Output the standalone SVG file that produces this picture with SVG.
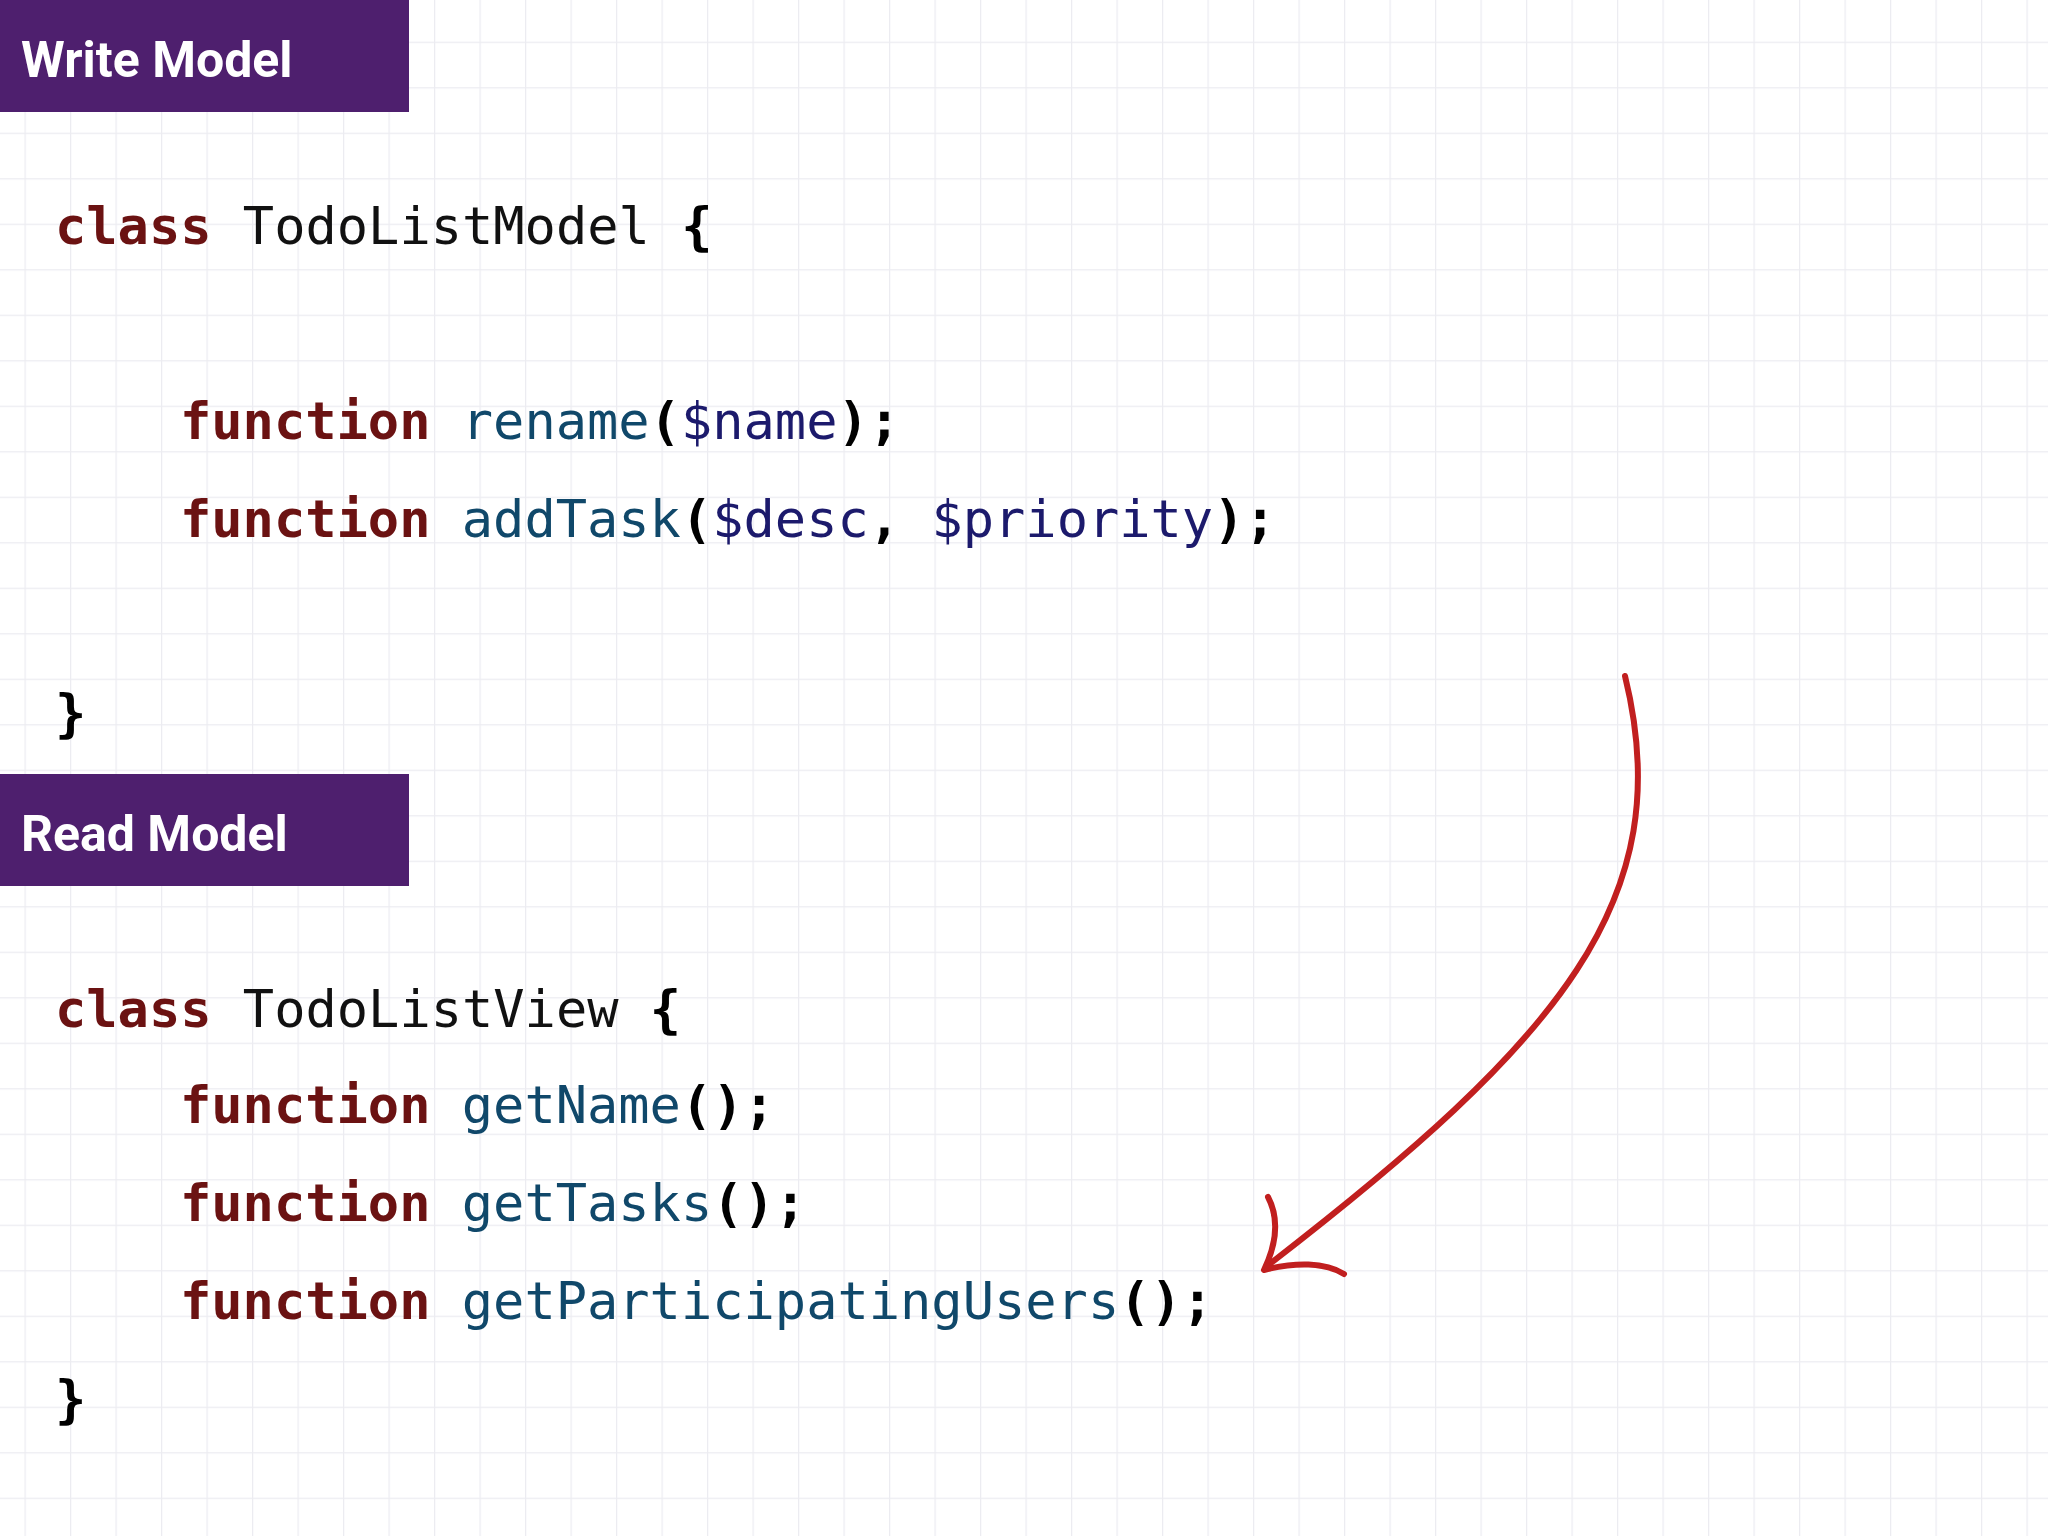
<svg xmlns="http://www.w3.org/2000/svg" width="2048" height="1536" viewBox="0 0 2048 1536">
<defs>
<pattern id="grid" x="24.5" y="41.7" width="45.5" height="45.5" patternUnits="userSpaceOnUse">
<path d="M0 0V45.5M0 0H45.5" fill="none" stroke="#ececf1" stroke-width="2.5"/>
</pattern>
</defs>
<style>
.hdr{fill:#4e1f6e}
.ht{font-family:Roboto,"DejaVu Sans",sans-serif;font-weight:bold;font-size:50px;fill:#fff}
.code{font-family:"DejaVu Sans Mono","Liberation Mono",monospace;font-size:52px;fill:#111}
.kw{fill:#6b1212;font-weight:bold}
.fn{fill:#10486a}
.var{fill:#1c1a6c}
.p{font-weight:bold;fill:#000}
.arrow{fill:none;stroke:#c11f1f;stroke-width:6;stroke-linecap:round;stroke-linejoin:round}
</style>
<rect width="2048" height="1536" fill="#fff"/>
<rect width="2048" height="1536" fill="url(#grid)"/>
<g id="write-header"><rect class="hdr" x="0" y="0" width="409" height="112"/><text class="ht" x="21" y="77">Write Model</text></g>
<g id="write-model" class="code" xml:space="preserve">
<text x="55" y="244"><tspan class="kw">class</tspan> TodoListModel <tspan class="p">{</tspan></text>
<text x="180" y="439"><tspan class="kw">function</tspan> <tspan class="fn">rename</tspan><tspan class="p">(</tspan><tspan class="var">$name</tspan><tspan class="p">);</tspan></text>
<text x="180" y="537"><tspan class="kw">function</tspan> <tspan class="fn">addTask</tspan><tspan class="p">(</tspan><tspan class="var">$desc</tspan><tspan class="p">,</tspan> <tspan class="var">$priority</tspan><tspan class="p">);</tspan></text>
<text x="55" y="731" class="p">}</text>
</g>
<g id="read-header"><rect class="hdr" x="0" y="774" width="409" height="112"/><text class="ht" x="21" y="851">Read Model</text></g>
<g id="read-model" class="code" xml:space="preserve">
<text x="55" y="1027"><tspan class="kw">class</tspan> TodoListView <tspan class="p">{</tspan></text>
<text x="180" y="1123"><tspan class="kw">function</tspan> <tspan class="fn">getName</tspan><tspan class="p">();</tspan></text>
<text x="180" y="1221"><tspan class="kw">function</tspan> <tspan class="fn">getTasks</tspan><tspan class="p">();</tspan></text>
<text x="180" y="1319"><tspan class="kw">function</tspan> <tspan class="fn">getParticipatingUsers</tspan><tspan class="p">();</tspan></text>
<text x="55" y="1417" class="p">}</text>
</g>
<g id="connectors">
<path class="arrow" d="M1625 676 C1680 900 1560 1040 1267 1266"/>
<path class="arrow" d="M1268 1197 C1280 1220 1276 1245 1264 1270 C1295 1262 1325 1262 1344 1274"/>
</g>
</svg>
